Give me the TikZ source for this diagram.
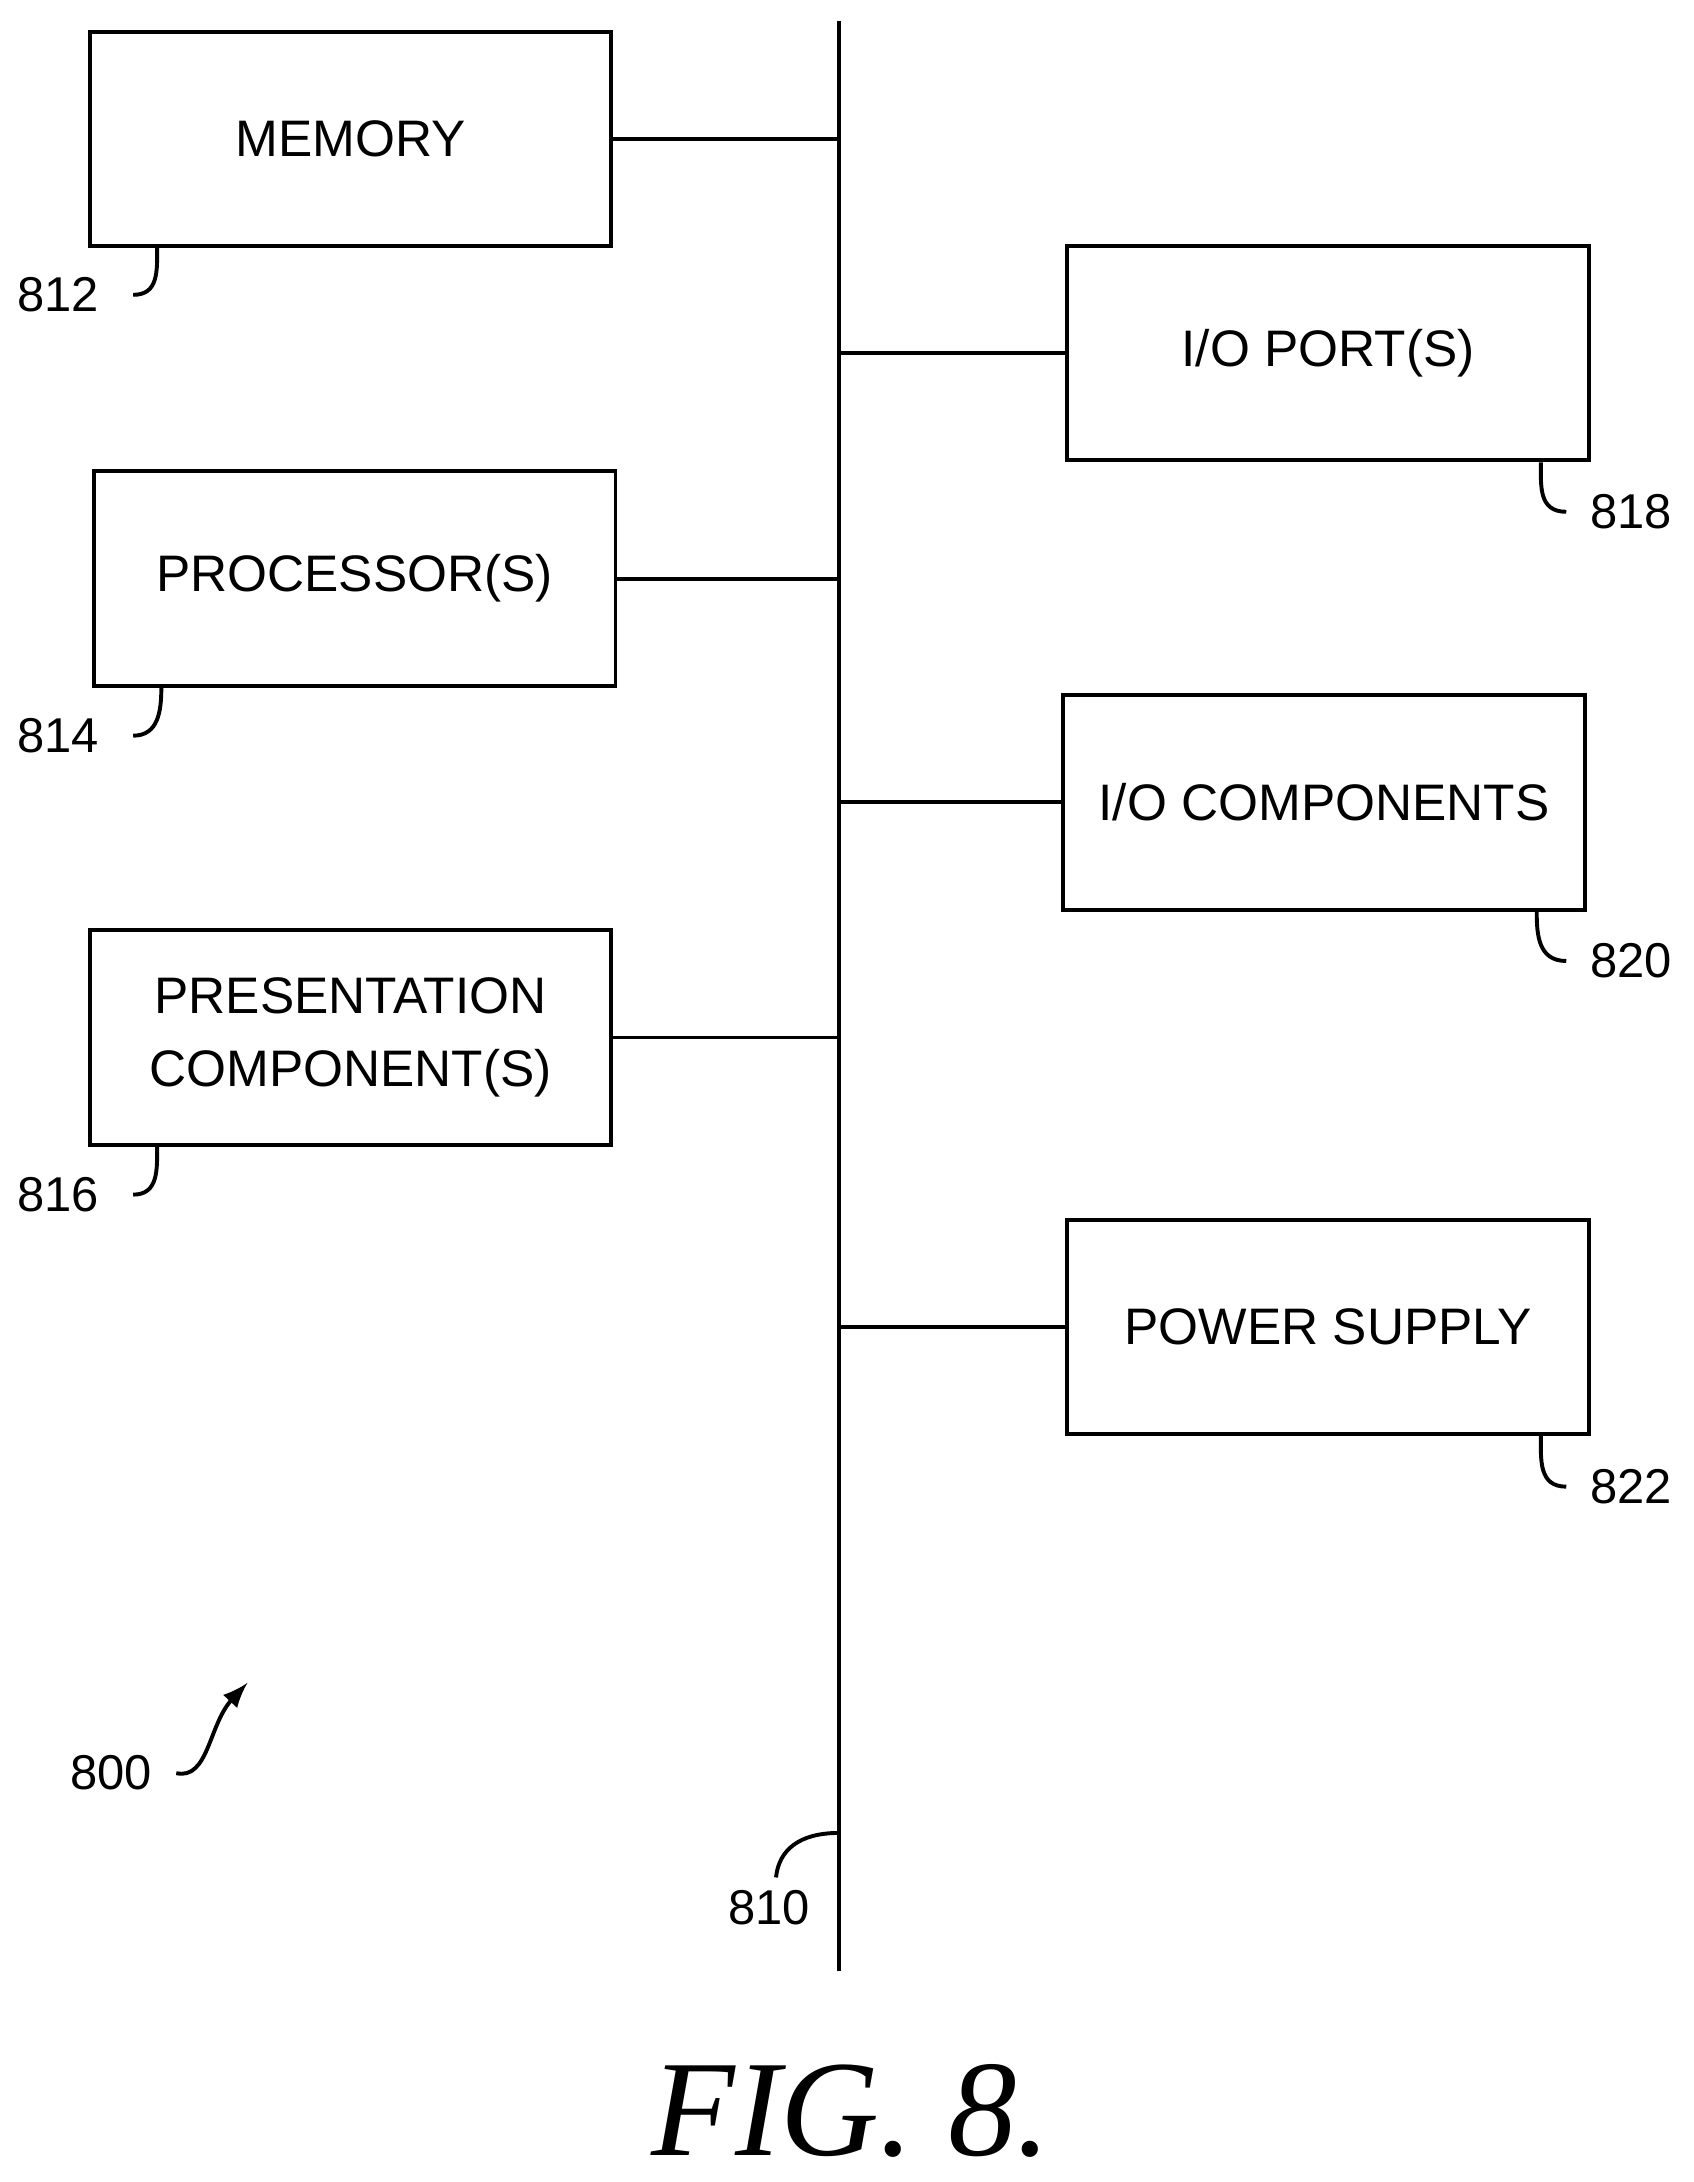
\documentclass[tikz,border=0pt]{standalone}
\usepackage{fontspec}
\setmainfont{Liberation Sans}
\newfontfamily\figfont{Liberation Serif}
\usetikzlibrary{positioning}
\tikzset{
  block/.style={draw,thick,minimum width=3.75cm,minimum height=1.54cm,align=center,font=\fontsize{10.5}{15}\selectfont},
  refnum/.style={font=\fontsize{10}{12}\selectfont},
  leader/.style={thick}
}
\begin{document}
\begin{tikzpicture}[x=0.01cm,y=-0.01cm]
    \useasboundingbox (0,0) rectangle (1218,1569);
    % bus
    \coordinate (bt) at (603,15);
    \coordinate (bb) at (603,1417);
    \draw[thick] (bt) -- (bb);
    % blocks
    \node[block] (mem) at (252,100) {MEMORY};
    \node[block] (proc) at (255,416) {PROCESSOR(S)};
    \node[block] (pres) at (252,746) {PRESENTATION\\COMPONENT(S)};
    \node[block] (port) at (955,254) {I/O PORT(S)};
    \node[block] (ioc) at (952,577) {I/O COMPONENTS};
    \node[block] (pow) at (955,954) {POWER SUPPLY};
    % taps
    \foreach \n in {mem,proc,pres}
        \draw[thick] (\n.east) -- (\n.east -| bt);
    \foreach \n in {port,ioc,pow}
        \draw[thick] (\n.west) -- (\n.west -| bt);
    % reference numerals
    \node[refnum] (r812) at (42,212) {812};
    \node[refnum] (r814) at (42,529) {814};
    \node[refnum] (r816) at (42,859) {816};
    \node[refnum] (r818) at (1173,368) {818};
    \node[refnum] (r820) at (1173,691) {820};
    \node[refnum] (r822) at (1173,1069) {822};
    \node[refnum] (r800) at (80,1275) {800};
    \node[refnum] (r810) at (553,1372) {810};
    \foreach \n/\b in {r812/mem,r814/proc,r816/pres}
        \draw[leader] ([xshift=0.12cm]\n.east) .. controls ++(18,0) and ++(0,17) .. ([xshift=0.5cm]\b.south west);
    \foreach \n/\b in {r818/port,r820/ioc,r822/pow}
        \draw[leader] ([xshift=-0.05cm]\n.west) .. controls ++(-20,0) and ++(0,17) .. ([xshift=-0.36cm]\b.south east);
    \draw[leader,-latex] ([xshift=0.05cm]r800.east) .. controls (150,1280) and (150,1240) .. (178,1210);
    \coordinate (b810) at (603,1318);
    \draw[leader] (b810) .. controls (575,1318) and (560,1330) .. (558,1350);
    \node[font=\figfont\itshape\fontsize{28}{32}\selectfont] (fig) at (612,1518) {FIG. 8.};
\end{tikzpicture}
\end{document}
